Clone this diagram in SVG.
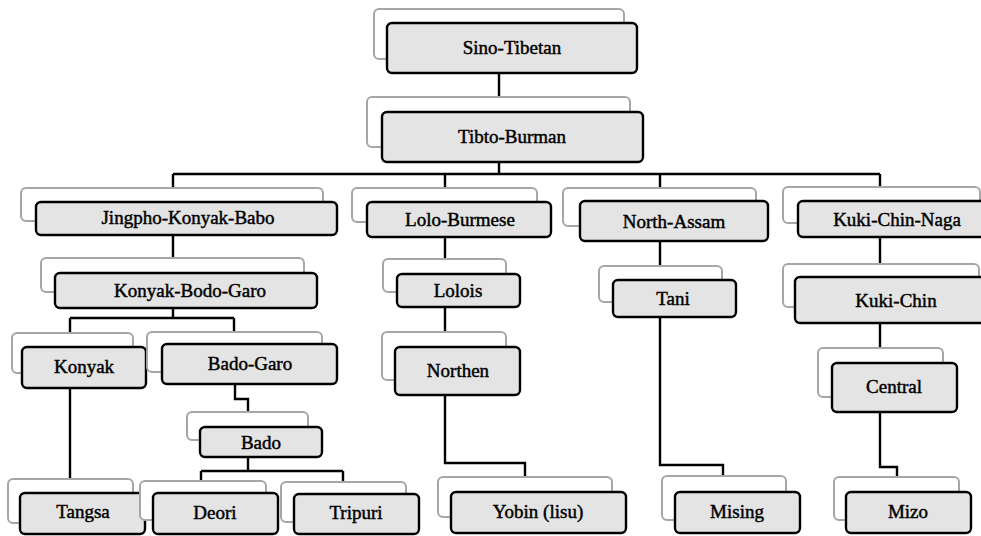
<svg xmlns="http://www.w3.org/2000/svg" width="981" height="536" viewBox="0 0 981 536">
<style>
.bg{fill:#ffffff;stroke:#a6a6a6;stroke-width:2}
.bx{fill:#e4e4e4;stroke:#000;stroke-width:2.4}
.c{fill:none;stroke:#000;stroke-width:2.4}
.t{font-family:'Liberation Serif','Times New Roman',serif;font-size:19px;text-anchor:middle;fill:#000;stroke:#000;stroke-width:0.45}
</style>
<rect width="981" height="536" fill="#fff"/>
<g id="connectors">
<path class="c" d="M499,73V97"/>
<path class="c" d="M499,162V174M173,174H880M173,174V188M445,174V188M660,174V188M880,174V187"/>
<path class="c" d="M173,235V258"/>
<path class="c" d="M445,237V259"/>
<path class="c" d="M660,241V266"/>
<path class="c" d="M880,237V264"/>
<path class="c" d="M173,308V318M70,318H234M70,318V333M234,318V332"/>
<path class="c" d="M445,307V332"/>
<path class="c" d="M880,323V348"/>
<path class="c" d="M70,388V479"/>
<path class="c" d="M235,384V399H248V412"/>
<path class="c" d="M248,457V471M201,471H343M201,471V482M343,471V482"/>
<path class="c" d="M445,395V463H525V477"/>
<path class="c" d="M660,317V465H723V476"/>
<path class="c" d="M880,412V467H897V477"/>
</g>
<g id="n-sino-tibetan"><rect class="bg" x="374" y="9" width="250" height="50" rx="5"/><rect class="bx" x="387" y="23" width="250" height="50" rx="5"/><text class="t" x="512" y="54">Sino-Tibetan</text></g>
<g id="n-tibto-burman"><rect class="bg" x="367" y="97" width="263" height="50" rx="5"/><rect class="bx" x="382" y="112" width="261" height="50" rx="5"/><text class="t" x="512" y="143">Tibto-Burman</text></g>
<g id="n-jingpho"><rect class="bg" x="21" y="188" width="302" height="33" rx="5"/><rect class="bx" x="36" y="202" width="301" height="33" rx="5"/><text class="t" x="188" y="224">Jingpho-Konyak-Babo</text></g>
<g id="n-lolo-burmese"><rect class="bg" x="352" y="188" width="185" height="34" rx="5"/><rect class="bx" x="367" y="202" width="184" height="35" rx="5"/><text class="t" x="460" y="226">Lolo-Burmese</text></g>
<g id="n-north-assam"><rect class="bg" x="563" y="188" width="193" height="38" rx="5"/><rect class="bx" x="580" y="201" width="188" height="40" rx="5"/><text class="t" x="674" y="228">North-Assam</text></g>
<g id="n-kuki-chin-naga"><rect class="bg" x="783" y="187" width="197" height="36" rx="5"/><rect class="bx" x="798" y="201" width="198" height="36" rx="5"/><text class="t" x="897" y="226">Kuki-Chin-Naga</text></g>
<g id="n-konyak-bodo-garo"><rect class="bg" x="41" y="258" width="263" height="34" rx="5"/><rect class="bx" x="55" y="273" width="262" height="35" rx="5"/><text class="t" x="190" y="297">Konyak-Bodo-Garo</text></g>
<g id="n-lolois"><rect class="bg" x="383" y="259" width="123" height="33" rx="5"/><rect class="bx" x="397" y="274" width="123" height="33" rx="5"/><text class="t" x="458" y="297">Lolois</text></g>
<g id="n-tani"><rect class="bg" x="599" y="266" width="123" height="36" rx="5"/><rect class="bx" x="613" y="280" width="123" height="37" rx="5"/><text class="t" x="673" y="305">Tani</text></g>
<g id="n-kuki-chin"><rect class="bg" x="783" y="264" width="196" height="43" rx="5"/><rect class="bx" x="795" y="277" width="202" height="46" rx="5"/><text class="t" x="896" y="307">Kuki-Chin</text></g>
<g id="n-konyak"><rect class="bg" x="12" y="333" width="121" height="40" rx="5"/><rect class="bx" x="22" y="347" width="124" height="41" rx="5"/><text class="t" x="84" y="373">Konyak</text></g>
<g id="n-bado-garo"><rect class="bg" x="147" y="332" width="175" height="40" rx="5"/><rect class="bx" x="162" y="344" width="175" height="40" rx="5"/><text class="t" x="250" y="370">Bado-Garo</text></g>
<g id="n-bado"><rect class="bg" x="187" y="412" width="121" height="28" rx="5"/><rect class="bx" x="200" y="427" width="122" height="30" rx="5"/><text class="t" x="261" y="449">Bado</text></g>
<g id="n-northen"><rect class="bg" x="382" y="332" width="124" height="48" rx="5"/><rect class="bx" x="395" y="347" width="125" height="48" rx="5"/><text class="t" x="458" y="377">Northen</text></g>
<g id="n-central"><rect class="bg" x="818" y="348" width="125" height="49" rx="5"/><rect class="bx" x="832" y="363" width="125" height="49" rx="5"/><text class="t" x="894" y="393">Central</text></g>
<g id="n-tangsa"><rect class="bg" x="8" y="479" width="125" height="44" rx="5"/><rect class="bx" x="20" y="493" width="125" height="41" rx="5"/><text class="t" x="83" y="518">Tangsa</text></g>
<g id="n-deori"><rect class="bg" x="140" y="481" width="126" height="39" rx="5"/><rect class="bx" x="153" y="493" width="125" height="41" rx="5"/><text class="t" x="215" y="519">Deori</text></g>
<g id="n-tripuri"><rect class="bg" x="281" y="482" width="125" height="40" rx="5"/><rect class="bx" x="294" y="494" width="125" height="40" rx="5"/><text class="t" x="356" y="519">Tripuri</text></g>
<g id="n-yobin"><rect class="bg" x="438" y="477" width="174" height="40" rx="5"/><rect class="bx" x="451" y="492" width="175" height="41" rx="5"/><text class="t" x="538" y="518">Yobin (lisu)</text></g>
<g id="n-mising"><rect class="bg" x="662" y="476" width="124" height="44" rx="5"/><rect class="bx" x="675" y="492" width="125" height="41" rx="5"/><text class="t" x="737" y="518">Mising</text></g>
<g id="n-mizo"><rect class="bg" x="834" y="477" width="125" height="43" rx="5"/><rect class="bx" x="846" y="492" width="125" height="41" rx="5"/><text class="t" x="908" y="518">Mizo</text></g>
</svg>
